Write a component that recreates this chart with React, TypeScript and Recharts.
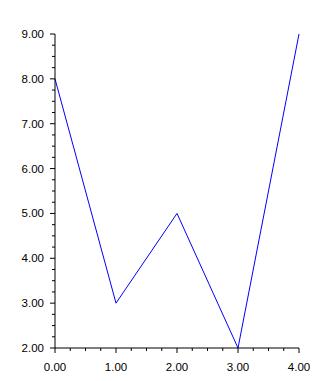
import React from "react";
import { LineChart, Line, XAxis, YAxis } from "recharts";

const xValues = [0, 1, 2, 3, 4];
const yValues = [8, 3, 5, 2, 9];
const xMajorTicks = [0, 1, 2, 3, 4];
const yMajorTicks = [2, 3, 4, 5, 6, 7, 8, 9];

const data = xValues.map((x, i) => ({ x, y: yValues[i] }));

// three minor ticks between each pair of majors
const withMinors = (majors: number[]) => {
  const out: number[] = [];
  majors.forEach((m, i) => {
    out.push(m);
    if (i < majors.length - 1) {
      const step = (majors[i + 1] - m) / 4;
      for (let k = 1; k < 4; k++) out.push(m + step * k);
    }
  });
  return out;
};

const isMajor = (v: number) => Math.abs(v - Math.round(v)) < 1e-6;
const FONT = "Liberation Sans, Arial, sans-serif";

const YTick = (props: any) => {
  const { x, y, payload } = props;
  const major = isMajor(payload.value);
  return (
    <g>
      <line x1={x - (major ? 5 : 3)} x2={x} y1={y} y2={y} stroke="#000" />
      {major && (
        <text x={x - 11} y={y + 4} textAnchor="end" fontSize={11.5} fontFamily={FONT} fill="#000">
          {payload.value.toFixed(2)}
        </text>
      )}
    </g>
  );
};

const XTick = (props: any) => {
  const { x, y, payload } = props;
  const major = isMajor(payload.value);
  return (
    <g>
      <line x1={x} x2={x} y1={y} y2={y + (major ? 5 : 3)} stroke="#000" />
      {major && (
        <text x={x} y={y + 23} textAnchor="middle" fontSize={11.5} fontFamily={FONT} fill="#000">
          {payload.value.toFixed(2)}
        </text>
      )}
    </g>
  );
};

export default function App() {
  return (
    <div style={{ position: "absolute", left: 0, top: 0, width: 323, height: 381, background: "#fff" }}>
      <LineChart width={323} height={381} data={data} margin={{ top: 34, right: 24, bottom: 0, left: 0 }}>
        <XAxis
          dataKey="x"
          type="number"
          domain={[0, 4]}
          ticks={withMinors(xMajorTicks)}
          interval={0}
          tickSize={0}
          tickMargin={0}
          tickLine={false}
          tick={<XTick />}
          height={33}
          axisLine={{ stroke: "#000" }}
        />
        <YAxis
          dataKey="y"
          type="number"
          domain={[2, 9]}
          ticks={withMinors(yMajorTicks)}
          interval={0}
          tickSize={0}
          tickMargin={0}
          tickLine={false}
          tick={<YTick />}
          width={55}
          axisLine={{ stroke: "#000" }}
        />
        <Line
          type="linear"
          dataKey="y"
          stroke="#0000ff"
          strokeWidth={1}
          dot={false}
          isAnimationActive={false}
        />
      </LineChart>
    </div>
  );
}
